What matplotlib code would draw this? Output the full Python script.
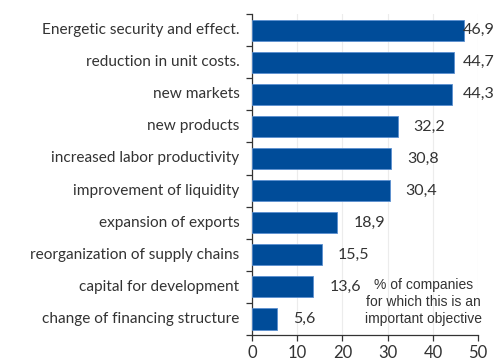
import numpy as np
import matplotlib.pyplot as plt

categories = [
    "Energetic security and effect.",
    "reduction in unit costs.",
    "new markets",
    "new products",
    "increased labor productivity",
    "improvement of liquidity",
    "expansion of exports",
    "reorganization of supply chains",
    "capital for development",
    "change of financing structure",
]
values = [46.9, 44.7, 44.3, 32.2, 30.8, 30.4, 18.9, 15.5, 13.6, 5.6]
x_ticks = [0, 10, 20, 30, 40, 50]

plt.rcParams['font.family'] = ['Lato', 'DejaVu Sans']

fig = plt.figure(figsize=(4.94, 3.61), dpi=100)
ax = fig.add_axes([0.510, 0.072, 0.458, 0.889])

y = np.arange(len(categories))
ax.barh(y, values, height=0.66, color='#004c99', edgecolor='#5a8fd0', linewidth=0.6, zorder=3)

ax.set_ylim(len(categories) - 0.5, -0.5)
ax.set_xlim(0, 50)
ax.set_xticks(x_ticks)
ax.set_xticklabels([str(t) for t in x_ticks], fontsize=12, color='#333333')
ax.grid(axis='x', color='#ececec', linewidth=0.8, zorder=0)

# category labels as text, ticks at the boundaries between bars
ax.set_yticks(np.arange(len(categories) + 1) - 0.5)
ax.set_yticklabels([])
for i, c in enumerate(categories):
    ax.text(-0.055, i, c, transform=ax.get_yaxis_transform(), ha='right', va='center',
            fontsize=11.1, color='#333333')

ax.tick_params(axis='y', length=4, width=0.9, color='#333333', direction='out')
ax.tick_params(axis='x', length=4, width=0.9, color='#333333', direction='out', pad=3)
for s in ['top', 'right']:
    ax.spines[s].set_visible(False)
for s in ['left', 'bottom']:
    ax.spines[s].set_color('#333333')
    ax.spines[s].set_linewidth(0.9)

# value labels, kept inside the figure
for i, v in enumerate(values):
    xpos = min(v + 3.5, 46.6)
    ax.text(xpos, i, f"{v:.1f}".replace('.', ','), ha='left', va='center',
            fontsize=11.5, color='#333333', zorder=4)

ax.text(0.757, 0.103, "% of companies\nfor which this is an\nimportant objective",
        transform=ax.transAxes, ha='center', va='center', fontsize=10,
        color='#333333', family=['Liberation Sans', 'DejaVu Sans'], linespacing=1.3)

fig.savefig('out.png', dpi=100)
